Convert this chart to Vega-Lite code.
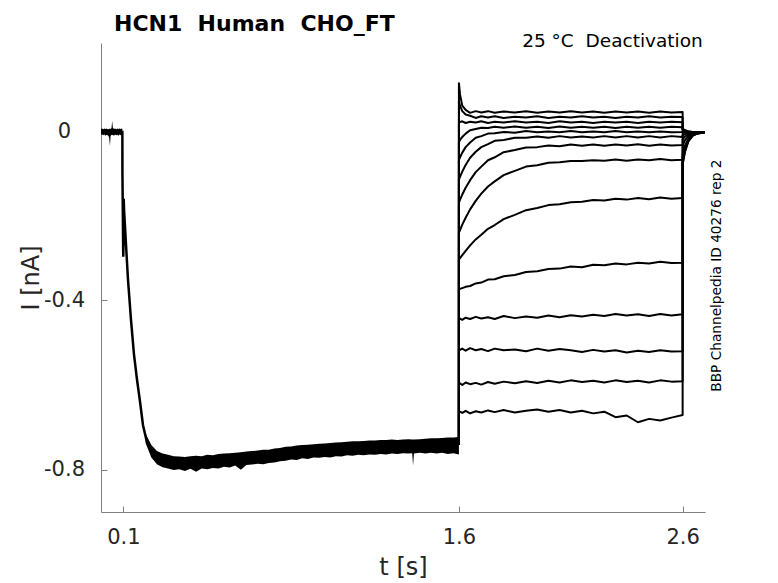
{
  "$schema": "https://vega.github.io/schema/vega-lite/v6.json",
  "description": "HCN1 deactivation current traces",
  "width": 604,
  "height": 469,
  "autosize": {"type": "none"},
  "padding": {"left": 101, "top": 43, "right": 73, "bottom": 71},
  "background": "white",
  "title": {
    "text": "HCN1\u00a0\u00a0Human\u00a0\u00a0CHO_FT",
    "anchor": "start",
    "frame": "group",
    "dx": 13,
    "dy": 21,
    "offset": 0,
    "baseline": "alphabetic",
    "font": "DejaVu Sans",
    "fontSize": 22,
    "fontWeight": "bold",
    "color": "black"
  },
  "datasets": {
    "band": [
      {"t": 0.000, "i": -0.009, "i2": 0.005, "seg": "p"},
      {"t": 0.005, "i": -0.008, "i2": 0.006, "seg": "p"},
      {"t": 0.010, "i": -0.010, "i2": 0.004, "seg": "p"},
      {"t": 0.015, "i": -0.008, "i2": 0.006, "seg": "p"},
      {"t": 0.020, "i": -0.011, "i2": 0.005, "seg": "p"},
      {"t": 0.025, "i": -0.009, "i2": 0.006, "seg": "p"},
      {"t": 0.030, "i": -0.010, "i2": 0.004, "seg": "p"},
      {"t": 0.036, "i": -0.014, "i2": 0.005, "seg": "p"},
      {"t": 0.040, "i": -0.035, "i2": 0.006, "seg": "p"},
      {"t": 0.043, "i": -0.012, "i2": 0.005, "seg": "p"},
      {"t": 0.047, "i": -0.009, "i2": 0.007, "seg": "p"},
      {"t": 0.050, "i": -0.010, "i2": 0.024, "seg": "p"},
      {"t": 0.053, "i": -0.009, "i2": 0.008, "seg": "p"},
      {"t": 0.058, "i": -0.011, "i2": 0.005, "seg": "p"},
      {"t": 0.063, "i": -0.008, "i2": 0.006, "seg": "p"},
      {"t": 0.068, "i": -0.010, "i2": 0.004, "seg": "p"},
      {"t": 0.073, "i": -0.009, "i2": 0.006, "seg": "p"},
      {"t": 0.078, "i": -0.011, "i2": 0.005, "seg": "p"},
      {"t": 0.083, "i": -0.008, "i2": 0.006, "seg": "p"},
      {"t": 0.088, "i": -0.010, "i2": 0.005, "seg": "p"},
      {"t": 0.092, "i": -0.009, "i2": 0.006, "seg": "p"},
      {"t": 0.0955, "i": -0.010, "i2": 0.005, "seg": "p"},
      {"t": 0.200, "i": -0.738, "i2": -0.715, "seg": "b"},
      {"t": 0.225, "i": -0.771, "i2": -0.742, "seg": "b"},
      {"t": 0.250, "i": -0.787, "i2": -0.756, "seg": "b"},
      {"t": 0.275, "i": -0.794, "i2": -0.762, "seg": "b"},
      {"t": 0.300, "i": -0.797, "i2": -0.765, "seg": "b"},
      {"t": 0.325, "i": -0.801, "i2": -0.768, "seg": "b"},
      {"t": 0.350, "i": -0.799, "i2": -0.769, "seg": "b"},
      {"t": 0.375, "i": -0.803, "i2": -0.770, "seg": "b"},
      {"t": 0.400, "i": -0.798, "i2": -0.768, "seg": "b"},
      {"t": 0.425, "i": -0.805, "i2": -0.767, "seg": "b"},
      {"t": 0.450, "i": -0.797, "i2": -0.768, "seg": "b"},
      {"t": 0.475, "i": -0.799, "i2": -0.765, "seg": "b"},
      {"t": 0.500, "i": -0.796, "i2": -0.766, "seg": "b"},
      {"t": 0.525, "i": -0.797, "i2": -0.763, "seg": "b"},
      {"t": 0.550, "i": -0.793, "i2": -0.762, "seg": "b"},
      {"t": 0.575, "i": -0.795, "i2": -0.761, "seg": "b"},
      {"t": 0.600, "i": -0.790, "i2": -0.760, "seg": "b"},
      {"t": 0.625, "i": -0.800, "i2": -0.759, "seg": "b"},
      {"t": 0.650, "i": -0.789, "i2": -0.757, "seg": "b"},
      {"t": 0.675, "i": -0.788, "i2": -0.756, "seg": "b"},
      {"t": 0.700, "i": -0.786, "i2": -0.755, "seg": "b"},
      {"t": 0.725, "i": -0.787, "i2": -0.753, "seg": "b"},
      {"t": 0.750, "i": -0.784, "i2": -0.753, "seg": "b"},
      {"t": 0.775, "i": -0.783, "i2": -0.750, "seg": "b"},
      {"t": 0.800, "i": -0.780, "i2": -0.749, "seg": "b"},
      {"t": 0.825, "i": -0.779, "i2": -0.746, "seg": "b"},
      {"t": 0.850, "i": -0.776, "i2": -0.745, "seg": "b"},
      {"t": 0.875, "i": -0.777, "i2": -0.743, "seg": "b"},
      {"t": 0.900, "i": -0.773, "i2": -0.742, "seg": "b"},
      {"t": 0.925, "i": -0.775, "i2": -0.741, "seg": "b"},
      {"t": 0.950, "i": -0.771, "i2": -0.740, "seg": "b"},
      {"t": 0.975, "i": -0.772, "i2": -0.739, "seg": "b"},
      {"t": 1.000, "i": -0.770, "i2": -0.738, "seg": "b"},
      {"t": 1.025, "i": -0.771, "i2": -0.737, "seg": "b"},
      {"t": 1.050, "i": -0.768, "i2": -0.736, "seg": "b"},
      {"t": 1.075, "i": -0.769, "i2": -0.735, "seg": "b"},
      {"t": 1.100, "i": -0.766, "i2": -0.734, "seg": "b"},
      {"t": 1.125, "i": -0.767, "i2": -0.733, "seg": "b"},
      {"t": 1.150, "i": -0.765, "i2": -0.733, "seg": "b"},
      {"t": 1.175, "i": -0.766, "i2": -0.732, "seg": "b"},
      {"t": 1.200, "i": -0.764, "i2": -0.731, "seg": "b"},
      {"t": 1.225, "i": -0.765, "i2": -0.731, "seg": "b"},
      {"t": 1.250, "i": -0.763, "i2": -0.730, "seg": "b"},
      {"t": 1.275, "i": -0.764, "i2": -0.730, "seg": "b"},
      {"t": 1.300, "i": -0.762, "i2": -0.729, "seg": "b"},
      {"t": 1.325, "i": -0.763, "i2": -0.730, "seg": "b"},
      {"t": 1.350, "i": -0.761, "i2": -0.729, "seg": "b"},
      {"t": 1.375, "i": -0.762, "i2": -0.728, "seg": "b"},
      {"t": 1.391, "i": -0.761, "i2": -0.729, "seg": "b"},
      {"t": 1.395, "i": -0.790, "i2": -0.729, "seg": "b"},
      {"t": 1.399, "i": -0.762, "i2": -0.729, "seg": "b"},
      {"t": 1.425, "i": -0.760, "i2": -0.728, "seg": "b"},
      {"t": 1.450, "i": -0.762, "i2": -0.727, "seg": "b"},
      {"t": 1.475, "i": -0.760, "i2": -0.726, "seg": "b"},
      {"t": 1.500, "i": -0.762, "i2": -0.726, "seg": "b"},
      {"t": 1.525, "i": -0.760, "i2": -0.725, "seg": "b"},
      {"t": 1.550, "i": -0.763, "i2": -0.724, "seg": "b"},
      {"t": 1.575, "i": -0.761, "i2": -0.724, "seg": "b"},
      {"t": 1.600, "i": -0.764, "i2": -0.723, "seg": "b"}
    ],
    "act": [
      {"o": 0, "t": 0.094, "i": -0.002},
      {"o": 1, "t": 0.0955, "i": -0.002},
      {"o": 2, "t": 0.0958, "i": -0.100},
      {"o": 3, "t": 0.0995, "i": -0.297},
      {"o": 4, "t": 0.1005, "i": -0.260},
      {"o": 5, "t": 0.1015, "i": -0.160},
      {"o": 6, "t": 0.1035, "i": -0.190},
      {"o": 7, "t": 0.1118, "i": -0.269},
      {"o": 8, "t": 0.1207, "i": -0.351},
      {"o": 9, "t": 0.1341, "i": -0.446},
      {"o": 10, "t": 0.1475, "i": -0.528},
      {"o": 11, "t": 0.1609, "i": -0.587},
      {"o": 12, "t": 0.1743, "i": -0.639},
      {"o": 13, "t": 0.1878, "i": -0.695},
      {"o": 14, "t": 0.2056, "i": -0.736},
      {"o": 15, "t": 0.228, "i": -0.757},
      {"o": 16, "t": 0.25, "i": -0.769}
    ],
    "sweeps": [
      {"o": 0, "t": 1.6, "a": -0.742, "b": -0.742, "c": -0.742, "d": -0.742, "e": -0.742, "f": -0.742, "g": -0.742, "h": -0.742, "j": -0.742, "k": -0.742, "l": -0.742, "m": -0.742, "n": -0.742, "q": -0.742},
      {"o": 1, "t": 1.6, "a": 0.113, "b": 0.070, "c": 0.022, "d": -0.026, "e": -0.068, "f": -0.115, "g": -0.169, "h": -0.240, "j": -0.304, "k": -0.374, "l": -0.445, "m": -0.515, "n": -0.598, "q": -0.664},
      {"o": 2, "t": 1.605, "a": 0.086, "b": 0.060, "c": 0.021, "d": -0.021, "e": -0.062, "f": -0.108, "g": -0.162, "h": -0.234, "j": -0.300, "k": -0.373, "l": -0.443, "m": -0.517, "n": -0.596, "q": -0.663},
      {"o": 3, "t": 1.615, "a": 0.060, "b": 0.047, "c": 0.023, "d": -0.014, "e": -0.051, "f": -0.096, "g": -0.150, "h": -0.221, "j": -0.293, "k": -0.371, "l": -0.446, "m": -0.514, "n": -0.600, "q": -0.666},
      {"o": 4, "t": 1.63, "a": 0.050, "b": 0.039, "c": 0.019, "d": -0.006, "e": -0.038, "f": -0.080, "g": -0.134, "h": -0.205, "j": -0.283, "k": -0.368, "l": -0.441, "m": -0.519, "n": -0.594, "q": -0.661},
      {"o": 5, "t": 1.65, "a": 0.043, "b": 0.036, "c": 0.022, "d": 0.002, "e": -0.027, "f": -0.063, "g": -0.116, "h": -0.185, "j": -0.270, "k": -0.366, "l": -0.444, "m": -0.513, "n": -0.598, "q": -0.667},
      {"o": 6, "t": 1.675, "a": 0.047, "b": 0.031, "c": 0.020, "d": 0.005, "e": -0.016, "f": -0.049, "g": -0.097, "h": -0.165, "j": -0.256, "k": -0.360, "l": -0.439, "m": -0.518, "n": -0.595, "q": -0.662},
      {"o": 7, "t": 1.7, "a": 0.044, "b": 0.035, "c": 0.023, "d": 0.008, "e": -0.012, "f": -0.038, "g": -0.084, "h": -0.148, "j": -0.245, "k": -0.358, "l": -0.443, "m": -0.515, "n": -0.599, "q": -0.665},
      {"o": 8, "t": 1.73, "a": 0.047, "b": 0.032, "c": 0.019, "d": 0.007, "e": -0.006, "f": -0.031, "g": -0.069, "h": -0.131, "j": -0.231, "k": -0.351, "l": -0.440, "m": -0.520, "n": -0.593, "q": -0.660},
      {"o": 9, "t": 1.76, "a": 0.043, "b": 0.035, "c": 0.022, "d": 0.010, "e": -0.005, "f": -0.023, "g": -0.062, "h": -0.119, "j": -0.222, "k": -0.350, "l": -0.444, "m": -0.514, "n": -0.597, "q": -0.664},
      {"o": 10, "t": 1.8, "a": 0.046, "b": 0.031, "c": 0.020, "d": 0.008, "e": -0.002, "f": -0.021, "g": -0.050, "h": -0.104, "j": -0.208, "k": -0.343, "l": -0.437, "m": -0.518, "n": -0.592, "q": -0.659},
      {"o": 11, "t": 1.85, "a": 0.044, "b": 0.034, "c": 0.023, "d": 0.011, "e": -0.004, "f": -0.016, "g": -0.045, "h": -0.094, "j": -0.198, "k": -0.340, "l": -0.442, "m": -0.516, "n": -0.596, "q": -0.665},
      {"o": 12, "t": 1.9, "a": 0.047, "b": 0.032, "c": 0.020, "d": 0.008, "e": 0.000, "f": -0.016, "g": -0.039, "h": -0.084, "j": -0.187, "k": -0.333, "l": -0.438, "m": -0.520, "n": -0.591, "q": -0.661},
      {"o": 13, "t": 1.95, "a": 0.043, "b": 0.035, "c": 0.022, "d": 0.010, "e": -0.003, "f": -0.013, "g": -0.038, "h": -0.081, "j": -0.182, "k": -0.331, "l": -0.441, "m": -0.514, "n": -0.595, "q": -0.658},
      {"o": 14, "t": 2.0, "a": 0.046, "b": 0.031, "c": 0.019, "d": 0.007, "e": -0.001, "f": -0.016, "g": -0.034, "h": -0.075, "j": -0.175, "k": -0.326, "l": -0.436, "m": -0.519, "n": -0.590, "q": -0.663},
      {"o": 15, "t": 2.05, "a": 0.044, "b": 0.034, "c": 0.023, "d": 0.011, "e": -0.003, "f": -0.012, "g": -0.036, "h": -0.074, "j": -0.173, "k": -0.325, "l": -0.440, "m": -0.515, "n": -0.594, "q": -0.659},
      {"o": 16, "t": 2.1, "a": 0.047, "b": 0.032, "c": 0.020, "d": 0.008, "e": 0.000, "f": -0.015, "g": -0.032, "h": -0.071, "j": -0.168, "k": -0.320, "l": -0.435, "m": -0.518, "n": -0.589, "q": -0.665},
      {"o": 17, "t": 2.15, "a": 0.044, "b": 0.035, "c": 0.022, "d": 0.010, "e": -0.003, "f": -0.013, "g": -0.035, "h": -0.071, "j": -0.167, "k": -0.322, "l": -0.438, "m": -0.522, "n": -0.593, "q": -0.661},
      {"o": 18, "t": 2.2, "a": 0.046, "b": 0.032, "c": 0.019, "d": 0.008, "e": -0.001, "f": -0.015, "g": -0.032, "h": -0.069, "j": -0.163, "k": -0.316, "l": -0.434, "m": -0.517, "n": -0.590, "q": -0.667},
      {"o": 19, "t": 2.25, "a": 0.043, "b": 0.034, "c": 0.022, "d": 0.010, "e": -0.003, "f": -0.012, "g": -0.035, "h": -0.070, "j": -0.164, "k": -0.317, "l": -0.437, "m": -0.521, "n": -0.594, "q": -0.663},
      {"o": 20, "t": 2.3, "a": 0.046, "b": 0.031, "c": 0.020, "d": 0.007, "e": 0.000, "f": -0.015, "g": -0.032, "h": -0.067, "j": -0.160, "k": -0.313, "l": -0.432, "m": -0.518, "n": -0.589, "q": -0.676},
      {"o": 21, "t": 2.35, "a": 0.044, "b": 0.034, "c": 0.022, "d": 0.010, "e": -0.003, "f": -0.012, "g": -0.034, "h": -0.070, "j": -0.162, "k": -0.315, "l": -0.436, "m": -0.523, "n": -0.593, "q": -0.672},
      {"o": 22, "t": 2.4, "a": 0.046, "b": 0.032, "c": 0.019, "d": 0.008, "e": -0.001, "f": -0.015, "g": -0.031, "h": -0.067, "j": -0.158, "k": -0.311, "l": -0.433, "m": -0.519, "n": -0.590, "q": -0.688},
      {"o": 23, "t": 2.45, "a": 0.043, "b": 0.035, "c": 0.022, "d": 0.010, "e": -0.003, "f": -0.012, "g": -0.035, "h": -0.069, "j": -0.161, "k": -0.313, "l": -0.437, "m": -0.522, "n": -0.594, "q": -0.680},
      {"o": 24, "t": 2.5, "a": 0.046, "b": 0.032, "c": 0.020, "d": 0.008, "e": -0.001, "f": -0.015, "g": -0.032, "h": -0.066, "j": -0.157, "k": -0.309, "l": -0.432, "m": -0.518, "n": -0.589, "q": -0.684},
      {"o": 25, "t": 2.55, "a": 0.044, "b": 0.034, "c": 0.022, "d": 0.010, "e": -0.003, "f": -0.012, "g": -0.034, "h": -0.069, "j": -0.160, "k": -0.312, "l": -0.436, "m": -0.521, "n": -0.592, "q": -0.677},
      {"o": 26, "t": 2.6, "a": 0.045, "b": 0.033, "c": 0.021, "d": 0.009, "e": -0.002, "f": -0.014, "g": -0.033, "h": -0.068, "j": -0.158, "k": -0.311, "l": -0.433, "m": -0.520, "n": -0.591, "q": -0.671},
      {"o": 27, "t": 2.6, "a": 0.005, "b": 0.004, "c": 0.003, "d": 0.002, "e": 0.000, "f": -0.004, "g": -0.010, "h": -0.020, "j": -0.035, "k": -0.055, "l": -0.065, "m": -0.072, "n": -0.077, "q": -0.080},
      {"o": 28, "t": 2.61, "a": 0.002, "b": 0.002, "c": 0.001, "d": 0.000, "e": -0.001, "f": -0.004, "g": -0.007, "h": -0.013, "j": -0.022, "k": -0.035, "l": -0.041, "m": -0.045, "n": -0.048, "q": -0.050},
      {"o": 29, "t": 2.625, "a": -0.001, "b": -0.001, "c": -0.001, "d": -0.002, "e": -0.002, "f": -0.003, "g": -0.005, "h": -0.008, "j": -0.012, "k": -0.018, "l": -0.021, "m": -0.023, "n": -0.024, "q": -0.025},
      {"o": 30, "t": 2.645, "a": -0.002, "b": -0.002, "c": -0.003, "d": -0.003, "e": -0.003, "f": -0.003, "g": -0.004, "h": -0.005, "j": -0.006, "k": -0.008, "l": -0.009, "m": -0.010, "n": -0.011, "q": -0.011},
      {"o": 31, "t": 2.67, "a": -0.003, "b": -0.002, "c": -0.004, "d": -0.003, "e": -0.004, "f": -0.003, "g": -0.004, "h": -0.004, "j": -0.004, "k": -0.005, "l": -0.005, "m": -0.005, "n": -0.005, "q": -0.005},
      {"o": 32, "t": 2.697, "a": -0.003, "b": -0.003, "c": -0.003, "d": -0.003, "e": -0.003, "f": -0.003, "g": -0.003, "h": -0.003, "j": -0.003, "k": -0.003, "l": -0.003, "m": -0.004, "n": -0.004, "q": -0.004}
    ]
  },
  "encoding": {
    "x": {
      "field": "t",
      "type": "quantitative",
      "scale": {"domain": [0, 2.7], "nice": false, "zero": false},
      "axis": {
        "title": "t [s]",
        "values": [0.1, 1.6, 2.6],
        "format": ".1f",
        "labelFlush": false,
        "labelPadding": 20,
        "tickSize": -6,
        "titleX": 302,
        "titleY": 62,
        "titleAlign": "center",
        "titleBaseline": "alphabetic"
      }
    },
    "y": {
      "field": "i",
      "type": "quantitative",
      "scale": {"domain": [-0.9, 0.208], "nice": false, "zero": false},
      "axis": {
        "title": "I [nA]",
        "values": [0, -0.4, -0.8],
        "labelExpr": "datum.value == 0 ? '0' : '-' + format(-datum.value, '.1f')",
        "labelAlign": "center",
        "labelBaseline": "middle",
        "labelPadding": 43,
        "tickSize": -6,
        "titleAngle": 270,
        "titleX": -63,
        "titleY": 234.5,
        "titleAlign": "center",
        "titleBaseline": "alphabetic"
      }
    }
  },
  "layer": [
    {
      "data": {"name": "band"},
      "mark": {"type": "area", "color": "black", "opacity": 1},
      "encoding": {
        "y2": {"field": "i2"},
        "detail": {"field": "seg", "type": "nominal"}
      }
    },
    {
      "data": {"name": "act"},
      "mark": {"type": "line", "color": "black", "strokeWidth": 2.5},
      "encoding": {"order": {"field": "o", "type": "quantitative"}}
    },
    {
      "data": {"name": "sweeps"},
      "transform": [
        {"fold": ["a", "b", "c", "d", "e", "f", "g", "h", "j", "k", "l", "m", "n", "q"], "as": ["sweep", "i"]}
      ],
      "mark": {"type": "line", "color": "black", "strokeWidth": 2, "strokeJoin": "round"},
      "encoding": {
        "detail": {"field": "sweep", "type": "nominal"},
        "order": {"field": "o", "type": "quantitative"}
      }
    },
    {
      "data": {"values": [{"t": 2.69, "i": 0.199, "txt": "25 °C\u00a0\u00a0Deactivation"}]},
      "mark": {"type": "text", "align": "right", "baseline": "alphabetic", "font": "DejaVu Sans", "fontSize": 18.5, "color": "black"},
      "encoding": {"text": {"field": "txt"}}
    },
    {
      "data": {"values": [{"t": 2.771, "i": -0.3415, "txt": "BBP Channelpedia ID 40276 rep 2"}]},
      "mark": {"type": "text", "angle": 270, "align": "center", "baseline": "alphabetic", "font": "DejaVu Sans", "fontSize": 13.7, "color": "black"},
      "encoding": {"text": {"field": "txt"}}
    }
  ],
  "config": {
    "view": {"stroke": null},
    "axis": {
      "grid": false,
      "domainColor": "#808080",
      "tickColor": "#808080",
      "labelFont": "DejaVu Sans",
      "labelFontSize": 21,
      "labelColor": "#262626",
      "titleFont": "DejaVu Sans",
      "titleFontSize": 24,
      "titleFontWeight": "normal",
      "titleColor": "#262626"
    }
  }
}
